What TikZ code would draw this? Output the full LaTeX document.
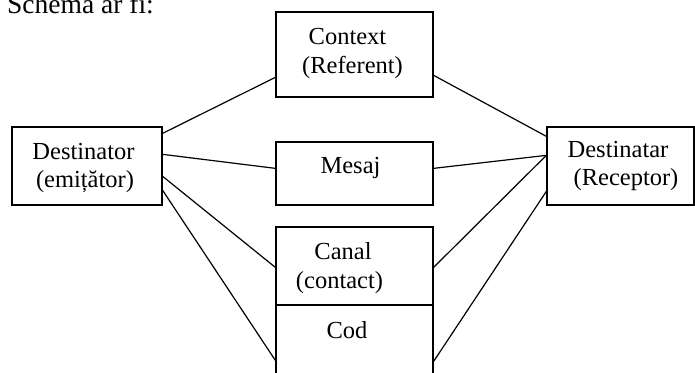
\documentclass[tikz,border=0pt]{standalone}
\usepackage{fontspec}
\setmainfont{Liberation Serif}
\begin{document}
\begin{tikzpicture}[x=1pt,y=-1pt,
  box/.style={draw,line width=1.3pt,rectangle,inner sep=0pt},
  lbl/.style={anchor=base,inner sep=0pt,font=\fontsize{24.5}{28}\selectfont},
  link/.style={line width=1.2pt}]
\useasboundingbox (0,0) rectangle (695,372);
\clip (0,0) rectangle (695,372);

% heading
\node[anchor=base west,inner sep=0pt,font=\fontsize{27.5}{32}\selectfont] (title) at (7,13) {Schema ar fi:};

% boxes
\node[box,minimum width=157pt,minimum height=85pt] (ctx) at (354.5,54.5) {};
\node[box,minimum width=157pt,minimum height=63pt] (msg) at (354.5,173.5) {};
\node[box,minimum width=150pt,minimum height=78pt] (src) at (87,166) {};
\node[box,minimum width=147pt,minimum height=78pt] (dst) at (620.5,166) {};
\node[box,minimum width=157pt,minimum height=78pt] (chn) at (354.5,266) {};
\node[box,minimum width=157pt,minimum height=95pt] (code) at (354.5,352.5) {};

% labels
\node[lbl] (ctxa) at (347.5,44) {Context};
\node[lbl] (ctxb) at (352.5,73) {(Referent)};
\node[lbl] (msga) at (350.5,173) {Mesaj};
\node[lbl] (srca) at (83.5,159) {Destinator};
\node[lbl] (srcb) at (85,187) {(emițător)};
\node[lbl] (dsta) at (618,157) {Destinatar};
\node[lbl] (dstb) at (626,185) {(Receptor)};
\node[lbl] (chna) at (343,259) {Canal};
\node[lbl] (chnb) at (339.5,288) {(contact)};
\node[lbl] (codea) at (347,338) {Cod};

% connectors from the sender
\draw[link] ([yshift=-7pt]src.north east) -- ([yshift=-66pt]ctx.north west);
\draw[link] ([yshift=-28pt]src.north east) -- ([yshift=-27pt]msg.north west);
\draw[link] ([yshift=-50pt]src.north east) -- ([yshift=-41pt]chn.north west);
\draw[link] ([yshift=-64pt]src.north east) -- ([yshift=-56pt]code.north west);

% connectors to the receiver
\draw[link] ([yshift=-64pt]ctx.north east) -- ([yshift=-10pt]dst.north west);
\draw[link] ([yshift=-27pt]msg.north east) -- ([yshift=-29pt]dst.north west);
\draw[link] ([yshift=-41pt]chn.north east) -- ([yshift=-29pt]dst.north west);
\draw[link] ([yshift=-57pt]code.north east) -- ([yshift=-65pt]dst.north west);
\end{tikzpicture}
\end{document}
